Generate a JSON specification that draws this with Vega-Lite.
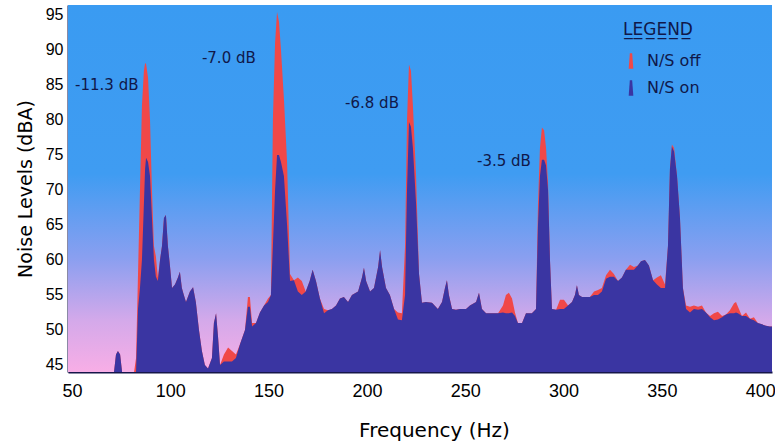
{
  "$schema": "https://vega.github.io/schema/vega-lite/v6.json",
  "width": 704,
  "height": 367,
  "autosize": "none",
  "padding": {"left": 68, "top": 5, "right": 3, "bottom": 71},
  "background": "white",
  "config": {"view": {"stroke": null}, "font": "DejaVu Sans"},
  "layer": [
    {
      "data": {"values": [{}]},
      "mark": {
        "type": "rect",
        "color": {
          "gradient": "linear", "x1": 0, "y1": 0, "x2": 0, "y2": 1,
          "stops": [
            {"offset": 0, "color": "#3a9bf2"},
            {"offset": 0.46, "color": "#3f9cf2"},
            {"offset": 0.69, "color": "#8a9ff0"},
            {"offset": 0.86, "color": "#d4a9ea"},
            {"offset": 1, "color": "#f8aee6"}
          ]
        }
      },
      "encoding": {}
    },
    {
      "data": {
        "values": [
          {"f": 48.0, "N/S on": 44, "N/S off": 44},
          {"f": 71.4, "N/S on": 44, "N/S off": 44},
          {"f": 72.4, "N/S on": 46.5, "N/S off": 46.5},
          {"f": 73.4, "N/S on": 47, "N/S off": 47},
          {"f": 74.5, "N/S on": 46.5, "N/S off": 46.5},
          {"f": 75.5, "N/S on": 44, "N/S off": 44},
          {"f": 81.6, "N/S on": 44, "N/S off": 44},
          {"f": 82.6, "N/S on": 44, "N/S off": 46},
          {"f": 83.6, "N/S on": 53, "N/S off": 58},
          {"f": 84.6, "N/S on": 56, "N/S off": 70},
          {"f": 85.6, "N/S on": 60, "N/S off": 82},
          {"f": 86.6, "N/S on": 68, "N/S off": 87},
          {"f": 87.2, "N/S on": 73, "N/S off": 88.1},
          {"f": 87.7, "N/S on": 74.6, "N/S off": 88},
          {"f": 88.7, "N/S on": 74, "N/S off": 86},
          {"f": 89.7, "N/S on": 72, "N/S off": 80},
          {"f": 90.7, "N/S on": 66, "N/S off": 70},
          {"f": 91.7, "N/S on": 60, "N/S off": 62},
          {"f": 92.7, "N/S on": 57.6, "N/S off": 60.5},
          {"f": 93.7, "N/S on": 57, "N/S off": 57.5},
          {"f": 94.8, "N/S on": 60, "N/S off": 60},
          {"f": 95.8, "N/S on": 62, "N/S off": 62},
          {"f": 96.8, "N/S on": 66, "N/S off": 66},
          {"f": 97.8, "N/S on": 66.4, "N/S off": 66.4},
          {"f": 98.8, "N/S on": 62, "N/S off": 62},
          {"f": 99.9, "N/S on": 59, "N/S off": 59},
          {"f": 100.9, "N/S on": 56, "N/S off": 56},
          {"f": 102.4, "N/S on": 56.5, "N/S off": 56.5},
          {"f": 103.9, "N/S on": 57.5, "N/S off": 57.5},
          {"f": 104.9, "N/S on": 58.3, "N/S off": 58.3},
          {"f": 105.9, "N/S on": 56, "N/S off": 56},
          {"f": 106.9, "N/S on": 55, "N/S off": 55},
          {"f": 108.0, "N/S on": 54, "N/S off": 54},
          {"f": 110.0, "N/S on": 55.5, "N/S off": 55.5},
          {"f": 111.6, "N/S on": 56.1, "N/S off": 56.1},
          {"f": 113.0, "N/S on": 54, "N/S off": 54},
          {"f": 114.6, "N/S on": 50, "N/S off": 50},
          {"f": 116.1, "N/S on": 47, "N/S off": 47},
          {"f": 117.6, "N/S on": 45, "N/S off": 45},
          {"f": 119.2, "N/S on": 44.5, "N/S off": 44.5},
          {"f": 121.2, "N/S on": 46, "N/S off": 46},
          {"f": 122.2, "N/S on": 51, "N/S off": 51},
          {"f": 123.3, "N/S on": 52.4, "N/S off": 52.4},
          {"f": 124.3, "N/S on": 49, "N/S off": 49},
          {"f": 125.3, "N/S on": 45, "N/S off": 45},
          {"f": 127.3, "N/S on": 45.5, "N/S off": 46.5},
          {"f": 129.4, "N/S on": 45.5, "N/S off": 47.5},
          {"f": 131.4, "N/S on": 45.5, "N/S off": 47},
          {"f": 133.4, "N/S on": 46, "N/S off": 46.5},
          {"f": 135.5, "N/S on": 48, "N/S off": 48},
          {"f": 138.0, "N/S on": 50, "N/S off": 50},
          {"f": 139.5, "N/S on": 53.3, "N/S off": 54.7},
          {"f": 140.5, "N/S on": 53.3, "N/S off": 54.7},
          {"f": 141.6, "N/S on": 50.5, "N/S off": 51},
          {"f": 143.6, "N/S on": 51, "N/S off": 51},
          {"f": 145.6, "N/S on": 52.5, "N/S off": 52.5},
          {"f": 147.7, "N/S on": 53.5, "N/S off": 53.5},
          {"f": 149.7, "N/S on": 54, "N/S off": 54.5},
          {"f": 151.2, "N/S on": 55, "N/S off": 55},
          {"f": 152.2, "N/S on": 62, "N/S off": 80},
          {"f": 153.3, "N/S on": 70, "N/S off": 91},
          {"f": 154.3, "N/S on": 75, "N/S off": 95.4},
          {"f": 155.3, "N/S on": 75, "N/S off": 94},
          {"f": 156.3, "N/S on": 74, "N/S off": 90},
          {"f": 157.8, "N/S on": 72, "N/S off": 83},
          {"f": 159.4, "N/S on": 65, "N/S off": 74},
          {"f": 160.9, "N/S on": 57, "N/S off": 58},
          {"f": 162.9, "N/S on": 57.1, "N/S off": 57.1},
          {"f": 164.9, "N/S on": 55.5, "N/S off": 57.5},
          {"f": 166.9, "N/S on": 55, "N/S off": 57},
          {"f": 168.9, "N/S on": 55.5, "N/S off": 55.5},
          {"f": 170.9, "N/S on": 57, "N/S off": 57},
          {"f": 172.4, "N/S on": 58.6, "N/S off": 58.6},
          {"f": 174.1, "N/S on": 57, "N/S off": 57},
          {"f": 176.1, "N/S on": 54.5, "N/S off": 54.5},
          {"f": 178.2, "N/S on": 52.4, "N/S off": 53},
          {"f": 180.2, "N/S on": 52.8, "N/S off": 52.8},
          {"f": 182.2, "N/S on": 53, "N/S off": 53},
          {"f": 184.3, "N/S on": 53.5, "N/S off": 53.5},
          {"f": 186.3, "N/S on": 54.5, "N/S off": 54.5},
          {"f": 188.3, "N/S on": 54.7, "N/S off": 54.7},
          {"f": 190.4, "N/S on": 54, "N/S off": 54},
          {"f": 192.4, "N/S on": 55, "N/S off": 55},
          {"f": 195.5, "N/S on": 55.5, "N/S off": 55.5},
          {"f": 197.5, "N/S on": 57.5, "N/S off": 57.5},
          {"f": 198.5, "N/S on": 58.9, "N/S off": 58.9},
          {"f": 199.6, "N/S on": 57, "N/S off": 57},
          {"f": 201.6, "N/S on": 55.5, "N/S off": 55.5},
          {"f": 203.6, "N/S on": 56, "N/S off": 56},
          {"f": 205.7, "N/S on": 59, "N/S off": 59},
          {"f": 206.7, "N/S on": 61.4, "N/S off": 61.4},
          {"f": 207.7, "N/S on": 59, "N/S off": 59},
          {"f": 209.7, "N/S on": 56, "N/S off": 56},
          {"f": 211.7, "N/S on": 55, "N/S off": 55},
          {"f": 213.8, "N/S on": 53, "N/S off": 53},
          {"f": 215.8, "N/S on": 51.5, "N/S off": 52.5},
          {"f": 217.8, "N/S on": 51.4, "N/S off": 52.4},
          {"f": 219.4, "N/S on": 55, "N/S off": 62},
          {"f": 220.4, "N/S on": 70, "N/S off": 80},
          {"f": 221.4, "N/S on": 79.7, "N/S off": 87.9},
          {"f": 222.4, "N/S on": 79, "N/S off": 87},
          {"f": 223.4, "N/S on": 76, "N/S off": 82},
          {"f": 225.0, "N/S on": 68, "N/S off": 72},
          {"f": 226.5, "N/S on": 58, "N/S off": 58},
          {"f": 228.0, "N/S on": 53.9, "N/S off": 53.9},
          {"f": 230.0, "N/S on": 54, "N/S off": 54},
          {"f": 233.1, "N/S on": 53.9, "N/S off": 53.9},
          {"f": 236.1, "N/S on": 53, "N/S off": 53},
          {"f": 238.2, "N/S on": 54, "N/S off": 54},
          {"f": 239.7, "N/S on": 56, "N/S off": 56},
          {"f": 240.7, "N/S on": 57.1, "N/S off": 57.1},
          {"f": 241.7, "N/S on": 55, "N/S off": 55},
          {"f": 243.3, "N/S on": 53, "N/S off": 53},
          {"f": 245.3, "N/S on": 52.9, "N/S off": 52.9},
          {"f": 247.3, "N/S on": 53, "N/S off": 53},
          {"f": 250.4, "N/S on": 53, "N/S off": 53},
          {"f": 252.4, "N/S on": 53.5, "N/S off": 53.5},
          {"f": 255.5, "N/S on": 54, "N/S off": 54},
          {"f": 257.0, "N/S on": 55.3, "N/S off": 55.3},
          {"f": 258.5, "N/S on": 53, "N/S off": 53},
          {"f": 260.6, "N/S on": 52.4, "N/S off": 52.4},
          {"f": 263.6, "N/S on": 52.4, "N/S off": 52.4},
          {"f": 266.7, "N/S on": 52.4, "N/S off": 52.4},
          {"f": 269.2, "N/S on": 52.5, "N/S off": 53.5},
          {"f": 270.7, "N/S on": 52.4, "N/S off": 55},
          {"f": 272.2, "N/S on": 52.4, "N/S off": 55.3},
          {"f": 273.8, "N/S on": 52.5, "N/S off": 54.5},
          {"f": 275.3, "N/S on": 52, "N/S off": 52.5},
          {"f": 276.8, "N/S on": 51, "N/S off": 51},
          {"f": 278.9, "N/S on": 51, "N/S off": 51},
          {"f": 280.9, "N/S on": 52.4, "N/S off": 52.4},
          {"f": 283.9, "N/S on": 52.4, "N/S off": 52.4},
          {"f": 286.0, "N/S on": 53, "N/S off": 53},
          {"f": 287.0, "N/S on": 65, "N/S off": 68},
          {"f": 288.0, "N/S on": 72, "N/S off": 76},
          {"f": 289.0, "N/S on": 74.3, "N/S off": 78.9},
          {"f": 290.1, "N/S on": 74.3, "N/S off": 78.5},
          {"f": 291.1, "N/S on": 73.5, "N/S off": 76},
          {"f": 292.1, "N/S on": 70, "N/S off": 71},
          {"f": 293.1, "N/S on": 60, "N/S off": 60},
          {"f": 294.1, "N/S on": 53, "N/S off": 53},
          {"f": 296.2, "N/S on": 52.9, "N/S off": 52.9},
          {"f": 298.2, "N/S on": 53, "N/S off": 54.3},
          {"f": 300.2, "N/S on": 53, "N/S off": 54.3},
          {"f": 302.3, "N/S on": 53.5, "N/S off": 53.5},
          {"f": 304.3, "N/S on": 54, "N/S off": 54},
          {"f": 305.8, "N/S on": 55, "N/S off": 55},
          {"f": 306.8, "N/S on": 56.4, "N/S off": 56.4},
          {"f": 307.8, "N/S on": 55, "N/S off": 55},
          {"f": 309.4, "N/S on": 54.7, "N/S off": 54.7},
          {"f": 311.4, "N/S on": 54.7, "N/S off": 54.7},
          {"f": 313.4, "N/S on": 54.7, "N/S off": 54.7},
          {"f": 315.5, "N/S on": 55, "N/S off": 55.5},
          {"f": 317.5, "N/S on": 55, "N/S off": 55.7},
          {"f": 319.5, "N/S on": 55.5, "N/S off": 56},
          {"f": 321.6, "N/S on": 57.3, "N/S off": 57.8},
          {"f": 323.6, "N/S on": 57.6, "N/S off": 58.6},
          {"f": 325.6, "N/S on": 57.6, "N/S off": 58},
          {"f": 327.7, "N/S on": 57, "N/S off": 57},
          {"f": 329.7, "N/S on": 57.5, "N/S off": 57.5},
          {"f": 331.7, "N/S on": 58.6, "N/S off": 58.6},
          {"f": 333.8, "N/S on": 58.6, "N/S off": 59.3},
          {"f": 335.8, "N/S on": 58.6, "N/S off": 59},
          {"f": 337.8, "N/S on": 59.2, "N/S off": 59.2},
          {"f": 339.4, "N/S on": 59.8, "N/S off": 59.8},
          {"f": 341.4, "N/S on": 60, "N/S off": 60},
          {"f": 343.4, "N/S on": 59.2, "N/S off": 59.2},
          {"f": 345.5, "N/S on": 57.1, "N/S off": 57.1},
          {"f": 347.5, "N/S on": 56.5, "N/S off": 57.5},
          {"f": 349.5, "N/S on": 56, "N/S off": 57.8},
          {"f": 351.6, "N/S on": 56, "N/S off": 56.5},
          {"f": 353.1, "N/S on": 62, "N/S off": 62},
          {"f": 354.1, "N/S on": 73, "N/S off": 73},
          {"f": 355.1, "N/S on": 76.2, "N/S off": 76.5},
          {"f": 356.2, "N/S on": 75.5, "N/S off": 76},
          {"f": 357.7, "N/S on": 72, "N/S off": 72},
          {"f": 359.2, "N/S on": 66, "N/S off": 66},
          {"f": 360.7, "N/S on": 56, "N/S off": 56},
          {"f": 362.3, "N/S on": 53, "N/S off": 53.5},
          {"f": 364.3, "N/S on": 52.5, "N/S off": 53.3},
          {"f": 366.3, "N/S on": 53, "N/S off": 53.5},
          {"f": 368.4, "N/S on": 52.9, "N/S off": 53.3},
          {"f": 370.4, "N/S on": 53, "N/S off": 53.5},
          {"f": 372.4, "N/S on": 52.5, "N/S off": 52.5},
          {"f": 374.5, "N/S on": 51.8, "N/S off": 52},
          {"f": 376.5, "N/S on": 51.4, "N/S off": 52.4},
          {"f": 378.5, "N/S on": 51.5, "N/S off": 52.6},
          {"f": 380.6, "N/S on": 51.8, "N/S off": 52},
          {"f": 382.6, "N/S on": 52.2, "N/S off": 52.2},
          {"f": 384.6, "N/S on": 52.4, "N/S off": 52.8},
          {"f": 386.7, "N/S on": 52.4, "N/S off": 53.8},
          {"f": 387.7, "N/S on": 52.5, "N/S off": 54},
          {"f": 388.7, "N/S on": 52.4, "N/S off": 53.3},
          {"f": 390.7, "N/S on": 52, "N/S off": 52},
          {"f": 392.8, "N/S on": 52, "N/S off": 52.5},
          {"f": 394.8, "N/S on": 51.6, "N/S off": 51.6},
          {"f": 396.8, "N/S on": 51.4, "N/S off": 51.8},
          {"f": 398.8, "N/S on": 51, "N/S off": 51},
          {"f": 400.9, "N/S on": 50.8, "N/S off": 50.8},
          {"f": 402.9, "N/S on": 50.6, "N/S off": 50.6},
          {"f": 404.9, "N/S on": 50.5, "N/S off": 50.5},
          {"f": 406.0, "N/S on": 50.5, "N/S off": 50.5}
        ]
      },
      "transform": [{"fold": ["N/S off", "N/S on"], "as": ["series", "level"]}],
      "mark": {"type": "area", "interpolate": "linear", "clip": true},
      "encoding": {
        "x": {
          "field": "f", "type": "quantitative",
          "scale": {"domain": [48, 406], "nice": false, "zero": false},
          "axis": {
            "title": "Frequency (Hz)", "values": [50, 100, 150, 200, 250, 300, 350, 400],
            "grid": false, "ticks": false, "domain": true, "domainColor": "#16164a", "domainWidth": 2,
            "labelFont": "Liberation Sans", "labelFontSize": 18, "labelColor": "#000000", "labelPadding": 10,
            "labelOverlap": false, "labelFlush": false,
            "titleFont": "DejaVu Sans", "titleFontSize": 20, "titleFontWeight": "normal", "titleColor": "#000000", "titlePadding": 20,
            "titleX": 366, "titleAlign": "center"
          }
        },
        "y": {
          "field": "level", "type": "quantitative", "stack": null,
          "scale": {"domain": [44, 96.4], "nice": false, "zero": false},
          "axis": {
            "title": "Noise Levels (dBA)", "values": [45, 50, 55, 60, 65, 70, 75, 80, 85, 90, 95],
            "grid": false, "ticks": false, "domain": true, "domainColor": "#16164a", "domainWidth": 2,
            "labelFont": "Liberation Sans", "labelFontSize": 16, "labelColor": "#000000", "labelPadding": 5,
            "labelOverlap": false, "labelFlush": false,
            "titleFont": "DejaVu Sans", "titleFontSize": 19, "titleFontWeight": "normal", "titleColor": "#000000", "titlePadding": 10
          }
        },
        "color": {
          "field": "series", "type": "nominal",
          "scale": {"domain": ["N/S off", "N/S on"], "range": ["#f04848", "#3a35a2"]},
          "legend": {
            "orient": "none", "legendX": 555, "legendY": 17,
            "title": "L\u0332E\u0332G\u0332E\u0332N\u0332D\u0332",
            "titleFont": "DejaVu Sans", "titleFontSize": 17, "titleFontWeight": "normal", "titleColor": "#10184a", "titlePadding": 14,
            "labelFont": "DejaVu Sans", "labelFontSize": 16, "labelColor": "#10184a", "labelOffset": 8,
            "symbolType": "M-0.3,1L-0.15,-1L0.15,-1L0.3,1Z", "symbolSize": 240, "symbolStrokeWidth": 0, "symbolOpacity": 1,
            "rowPadding": 11
          }
        }
      }
    },
    {
      "data": {
        "values": [
          {"f": 51.6, "level": 85, "t": "-11.3 dB"},
          {"f": 116.1, "level": 88.9, "t": "-7.0 dB"},
          {"f": 188.9, "level": 82.4, "t": "-6.8 dB"},
          {"f": 256, "level": 74.1, "t": "-3.5 dB"}
        ]
      },
      "mark": {"type": "text", "align": "left", "baseline": "middle", "font": "DejaVu Sans", "fontSize": 15, "color": "#10184a"},
      "encoding": {
        "x": {
          "field": "f", "type": "quantitative",
          "axis": {
            "title": "Frequency (Hz)", "values": [50, 100, 150, 200, 250, 300, 350, 400],
            "grid": false, "ticks": false, "domain": true, "domainColor": "#16164a", "domainWidth": 2,
            "labelFont": "Liberation Sans", "labelFontSize": 18, "labelColor": "#000000", "labelPadding": 10,
            "labelOverlap": false, "labelFlush": false,
            "titleFont": "DejaVu Sans", "titleFontSize": 20, "titleFontWeight": "normal", "titleColor": "#000000", "titlePadding": 20,
            "titleX": 366, "titleAlign": "center"
          }
        },
        "y": {
          "field": "level", "type": "quantitative",
          "axis": {
            "title": "Noise Levels (dBA)", "values": [45, 50, 55, 60, 65, 70, 75, 80, 85, 90, 95],
            "grid": false, "ticks": false, "domain": true, "domainColor": "#16164a", "domainWidth": 2,
            "labelFont": "Liberation Sans", "labelFontSize": 16, "labelColor": "#000000", "labelPadding": 5,
            "labelOverlap": false, "labelFlush": false,
            "titleFont": "DejaVu Sans", "titleFontSize": 19, "titleFontWeight": "normal", "titleColor": "#000000", "titlePadding": 10
          }
        },
        "text": {"field": "t"}
      }
    }
  ]
}
